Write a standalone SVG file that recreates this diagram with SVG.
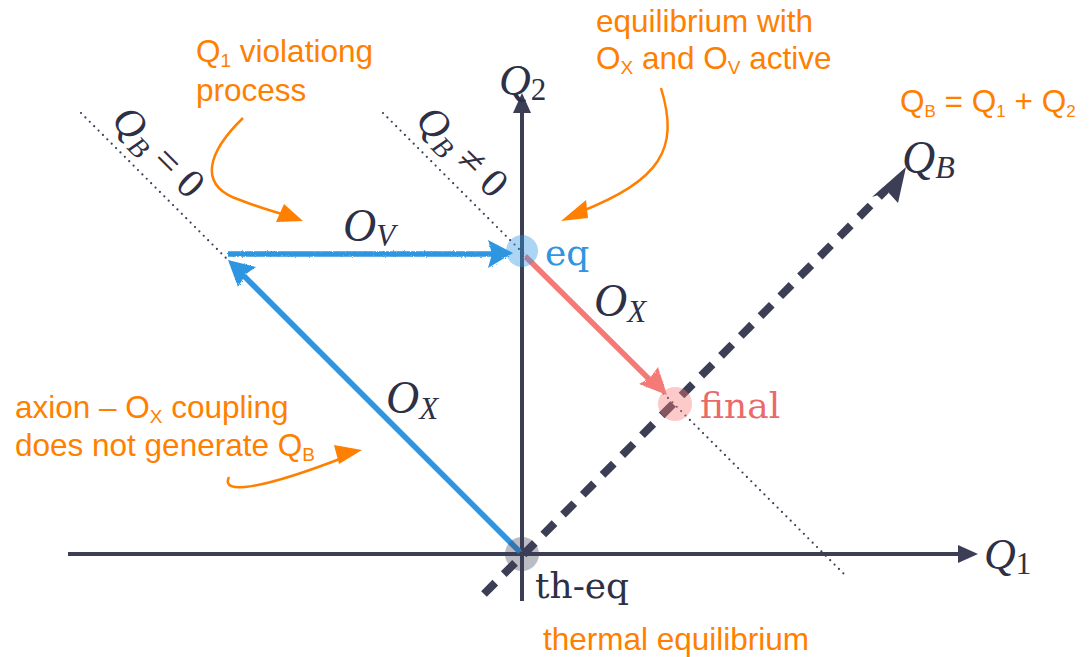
<svg xmlns="http://www.w3.org/2000/svg" width="1092" height="657" viewBox="0 0 1092 657">
<style>
.ax{stroke:#3c3e55;stroke-width:4;fill:none}
.dot{stroke:#3c3e55;stroke-width:2.2;stroke-linecap:round;stroke-dasharray:0 6.2;fill:none}
.math{font-family:"Liberation Serif","DejaVu Serif",serif;fill:#2e3045}
.up{font-family:"DejaVu Serif","Liberation Serif",serif;fill:#2e3045}
.it{font-style:italic}
.ann{font-family:"Liberation Sans",Arial,sans-serif;fill:#ff8000;font-size:31.5px}
.oarr{stroke:#ff8000;stroke-width:2.5;fill:none}
.blue{stroke:#2f95e0;stroke-width:5.5;fill:none}
.red{stroke:#f47a78;stroke-width:5.5;fill:none}
</style>
<defs>
<filter id="rough" filterUnits="userSpaceOnUse" x="0" y="0" width="1092" height="657">
<feTurbulence type="fractalNoise" baseFrequency="0.9" numOctaves="2" seed="3" result="n"/>
<feDisplacementMap in="SourceGraphic" in2="n" scale="2.5"/>
</filter>
</defs>
<rect width="1092" height="657" fill="#ffffff"/>

<g id="guides">
<line class="dot" x1="81" y1="113" x2="228" y2="260"/>
<line class="dot" x1="383" y1="113" x2="845" y2="575"/>
<text class="math it" font-size="41" transform="translate(110,122) rotate(45)">Q<tspan font-size="28" dy="7">B</tspan><tspan dy="-7" font-style="normal"> = 0</tspan></text>
<text class="math it" font-size="41" transform="translate(414,122) rotate(45)">Q<tspan font-size="28" dy="7">B</tspan><tspan dy="-7" font-style="normal"> ≠ 0</tspan></text>
</g>

<g id="axes">
<line class="ax" x1="68" y1="554" x2="962" y2="554"/>
<polygon points="978,554 958,545 958,563" fill="#3c3e55"/>
<line class="ax" x1="522" y1="601" x2="522" y2="110"/>
<polygon points="522,93 513,113 531,113" fill="#3c3e55"/>
<text class="math it" font-size="44" x="984" y="569">Q<tspan font-style="normal" font-size="31" dy="5">1</tspan></text>
<text class="math it" font-size="44" x="499" y="95">Q<tspan font-style="normal" font-size="31" dy="5">2</tspan></text>
</g>

<g id="qb-axis">
<line x1="484" y1="594" x2="886" y2="190" stroke="#3c3e55" stroke-width="8" stroke-dasharray="16 12"/>
<polygon points="906,167 898,203 888,192 872,197" fill="#3c3e55"/>
<text class="math it" font-size="46" x="902" y="173">Q<tspan font-size="32" dy="5">B</tspan></text>
</g>

<g id="connectors">
<g filter="url(#rough)">
<line class="blue" x1="228" y1="254" x2="495" y2="254"/>
<polygon points="513,253 488,240 492,254 488,268" fill="#2f95e0"/>
<line class="blue" x1="520" y1="552" x2="244" y2="276"/>
<polygon points="228,260 256,267 246,274 238,287" fill="#2f95e0"/>
<line class="red" x1="525" y1="256" x2="652" y2="382"/>
<polygon points="667,395 658,367 650,378 639,384" fill="#f47a78"/>
</g>
<text class="math it" font-size="46" x="343" y="241">O<tspan font-size="31" dy="5">V</tspan></text>
<text class="math it" font-size="46" x="386" y="413">O<tspan font-size="31" dy="6">X</tspan></text>
<text class="math it" font-size="46" x="594" y="316">O<tspan font-size="31" dy="6">X</tspan></text>
</g>

<g id="node-eq">
<circle cx="522" cy="251" r="16" fill="#2f95e0" fill-opacity="0.4"/>
<text class="up" font-size="36" x="545" y="265" style="fill:#2f95e0">eq</text>
</g>
<g id="node-final">
<circle cx="675" cy="404" r="17" fill="#f47a78" fill-opacity="0.4"/>
<text class="up" font-size="36" x="700" y="418" style="fill:#ea6a6a">final</text>
</g>
<g id="node-theq">
<circle cx="522" cy="554" r="17" fill="#3c3e55" fill-opacity="0.35"/>
<text class="up" font-size="36" x="535" y="598">th-eq</text>
</g>

<g id="annotations">
<text class="ann" x="196" y="62">Q<tspan font-size="19" dy="5">1</tspan><tspan dy="-5"> violationg</tspan></text>
<text class="ann" x="196" y="101">process</text>
<path class="oarr" d="M243,118 C210,150 195,185 240,200 C255,206 268,210 285,215"/>
<polygon points="303,221 276,222 284,204" fill="#ff8000"/>

<text class="ann" x="596" y="32">equilibrium with</text>
<text class="ann" x="596" y="69">O<tspan font-size="19" dy="5">X</tspan><tspan dy="-5"> and O</tspan><tspan font-size="19" dy="5">V</tspan><tspan dy="-5"> active</tspan></text>
<path class="oarr" d="M661,88 C680,150 660,180 580,212"/>
<polygon points="561,221 586,200 588,218" fill="#ff8000"/>

<text class="ann" x="900" y="112" font-size="28.5">Q<tspan font-size="17" dy="5">B</tspan><tspan dy="-5"> = Q</tspan><tspan font-size="17" dy="5">1</tspan><tspan dy="-5"> + Q</tspan><tspan font-size="17" dy="5">2</tspan></text>

<text class="ann" x="15" y="418">axion – O<tspan font-size="19" dy="5">X</tspan><tspan dy="-5"> coupling</tspan></text>
<text class="ann" x="15" y="456">does not generate Q<tspan font-size="19" dy="5">B</tspan></text>
<path class="oarr" d="M229,477 C220,495 260,490 345,457"/>
<polygon points="362,450 339,464 334,445" fill="#ff8000"/>

<text class="ann" x="543" y="650">thermal equilibrium</text>
</g>
</svg>
